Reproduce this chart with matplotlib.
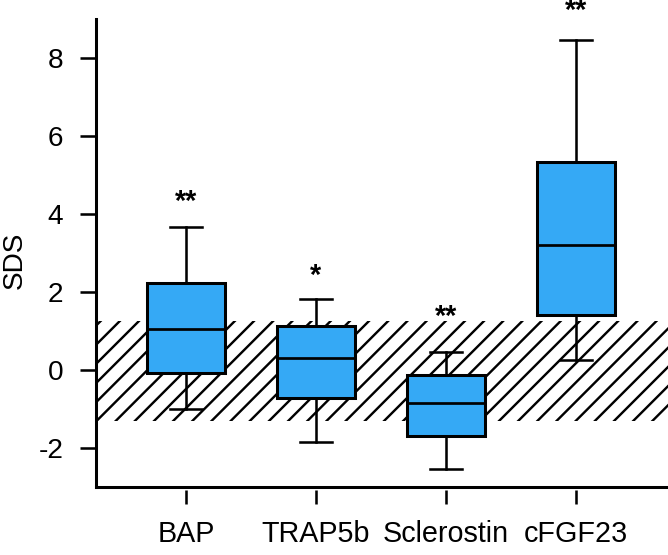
import matplotlib
matplotlib.use('Agg')
import matplotlib.pyplot as plt

# summary values (SDS)
MARKERS = ['BAP', 'TRAP5b', 'Sclerostin', 'cFGF23']
WHISK_LO = [-0.99, -1.85, -2.55, 0.26]
Q1 = [-0.07, -0.71, -1.69, 1.42]
MEDIAN = [1.05, 0.32, -0.84, 3.21]
Q3 = [2.22, 1.14, -0.14, 5.33]
WHISK_HI = [3.66, 1.81, 0.45, 8.46]
STARS = ['**', '*', '**', '**']
STAR_Y = [4.3, 2.4, 1.35, 9.2]
REF_LO = -1.30
REF_HI = 1.25

BLUE = '#35a9f5'
DPI = 115

plt.rcParams['font.family'] = ['Liberation Sans', 'DejaVu Sans']
plt.rcParams['hatch.linewidth'] = 1.5
plt.rcParams['axes.unicode_minus'] = False


def main():
	fig = plt.figure(figsize=(668 / DPI, 555 / DPI), dpi=DPI)
	ax = fig.add_axes([96 / 668, 68 / 555, 572 / 668, 468 / 555])

	# reference band (hatched)
	ax.axhspan(REF_LO, REF_HI, facecolor='none', edgecolor='black',
		linewidth=0, hatch='//', zorder=1)

	stats = []
	for i in range(len(MARKERS)):
		stats.append({'whislo': WHISK_LO[i], 'q1': Q1[i], 'med': MEDIAN[i],
			'q3': Q3[i], 'whishi': WHISK_HI[i], 'fliers': [], 'label': MARKERS[i]})

	pos = list(range(1, len(MARKERS) + 1))
	ax.bxp(stats, positions=pos, widths=0.6, patch_artist=True, capwidths=0.24,
		boxprops=dict(facecolor=BLUE, edgecolor='black', linewidth=1.9),
		medianprops=dict(color='black', linewidth=1.7),
		whiskerprops=dict(color='black', linewidth=1.6),
		capprops=dict(color='black', linewidth=1.6),
		showfliers=False, zorder=3)

	for i in range(len(MARKERS)):
		ax.text(pos[i], STAR_Y[i], STARS[i], ha='center', va='center',
			fontsize=18, fontweight='bold', clip_on=False)

	ax.set_xlim(0.3077, 4.708)
	ax.set_ylim(-3, 9)
	ax.set_yticks([-2, 0, 2, 4, 6, 8])
	ax.set_xticks(pos)
	ax.set_xticklabels(MARKERS)
	ax.tick_params(axis='y', labelsize=17.5, length=10, width=1.6, pad=10.5, direction='out')
	ax.tick_params(axis='x', labelsize=18, length=8.5, width=1.6, pad=10, direction='out')

	for s in ['top', 'right']:
		ax.spines[s].set_visible(False)
	ax.spines['left'].set_linewidth(1.9)
	# bottom axis line with ticks hanging slightly below it
	ax.spines['bottom'].set_position(('outward', 2))
	ax.spines['bottom'].set_visible(False)
	ax.axhline(-3, color='black', linewidth=1.9, clip_on=False, zorder=5)

	ax.set_ylabel('SDS', fontsize=17.5)
	ax.yaxis.set_label_coords(-0.119, 0.485)

	fig.savefig('out.png', dpi=DPI)


if __name__ == '__main__':
	main()
